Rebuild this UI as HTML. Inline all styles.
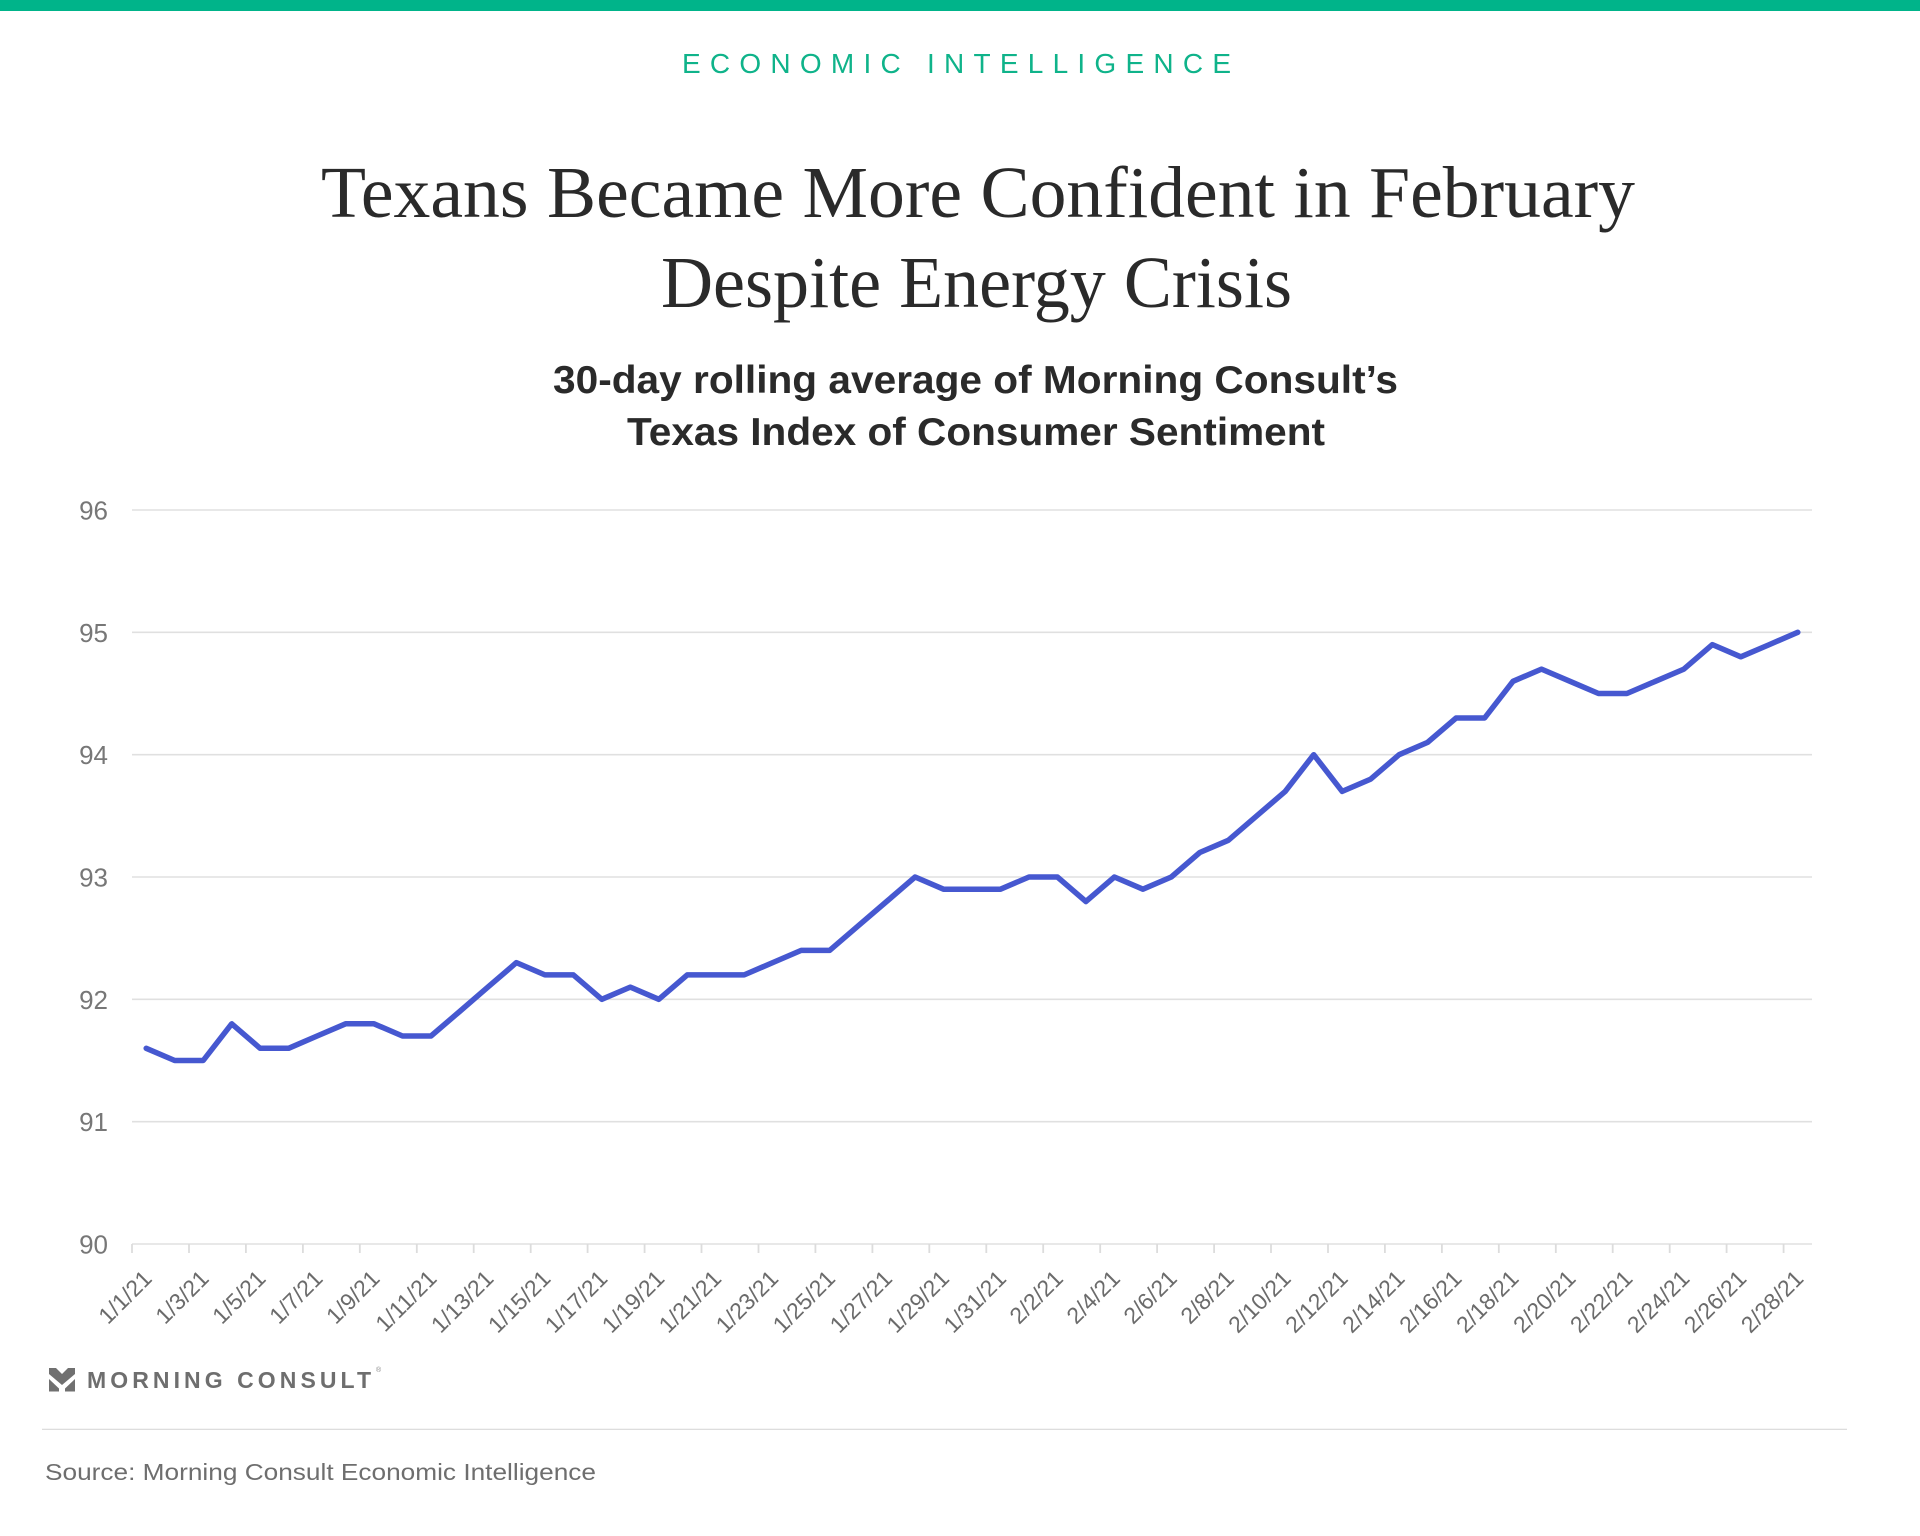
<!DOCTYPE html>
<html>
<head>
<meta charset="utf-8">
<style>
html,body{margin:0;padding:0;background:#fff;}
svg{display:block;}
</style>
</head>
<body>
<svg width="1920" height="1536" viewBox="0 0 1920 1536" xmlns="http://www.w3.org/2000/svg">
<rect x="0" y="0" width="1920" height="1536" fill="#fff"/>
<rect x="0" y="0" width="1920" height="11" fill="#00b48a"/>

<text x="682" y="73" font-family="Liberation Sans, sans-serif" font-size="28" fill="#0fb38a" textLength="549" lengthAdjust="spacing">ECONOMIC INTELLIGENCE</text>

<text x="321" y="217" font-family="Liberation Serif, serif" font-size="73" fill="#2a2a2a" textLength="1314" lengthAdjust="spacingAndGlyphs">Texans Became More Confident in February</text>
<text x="661" y="307" font-family="Liberation Serif, serif" font-size="73" fill="#2a2a2a" textLength="631" lengthAdjust="spacingAndGlyphs">Despite Energy Crisis</text>

<text x="553" y="393" font-family="Liberation Sans, sans-serif" font-size="39" font-weight="bold" fill="#2a2a2a" textLength="845" lengthAdjust="spacingAndGlyphs">30-day rolling average of Morning Consult’s</text>
<text x="627" y="445" font-family="Liberation Sans, sans-serif" font-size="39" font-weight="bold" fill="#2a2a2a" textLength="698" lengthAdjust="spacingAndGlyphs">Texas Index of Consumer Sentiment</text>

<!-- gridlines -->
<g stroke="#e0e0e0" stroke-width="1.6">
<line x1="132" y1="510" x2="1812" y2="510"/>
<line x1="132" y1="632.3" x2="1812" y2="632.3"/>
<line x1="132" y1="754.7" x2="1812" y2="754.7"/>
<line x1="132" y1="877" x2="1812" y2="877"/>
<line x1="132" y1="999.3" x2="1812" y2="999.3"/>
<line x1="132" y1="1121.7" x2="1812" y2="1121.7"/>
<line x1="132" y1="1244" x2="1812" y2="1244"/>
</g>
<!-- ticks -->
<g stroke="#dcdcdc" stroke-width="1.8">
<line x1="132" y1="1244" x2="132" y2="1253"/>
<line x1="189" y1="1244" x2="189" y2="1253"/>
<line x1="245.9" y1="1244" x2="245.9" y2="1253"/>
<line x1="302.9" y1="1244" x2="302.9" y2="1253"/>
<line x1="359.8" y1="1244" x2="359.8" y2="1253"/>
<line x1="416.8" y1="1244" x2="416.8" y2="1253"/>
<line x1="473.7" y1="1244" x2="473.7" y2="1253"/>
<line x1="530.7" y1="1244" x2="530.7" y2="1253"/>
<line x1="587.6" y1="1244" x2="587.6" y2="1253"/>
<line x1="644.6" y1="1244" x2="644.6" y2="1253"/>
<line x1="701.5" y1="1244" x2="701.5" y2="1253"/>
<line x1="758.5" y1="1244" x2="758.5" y2="1253"/>
<line x1="815.4" y1="1244" x2="815.4" y2="1253"/>
<line x1="872.4" y1="1244" x2="872.4" y2="1253"/>
<line x1="929.3" y1="1244" x2="929.3" y2="1253"/>
<line x1="986.3" y1="1244" x2="986.3" y2="1253"/>
<line x1="1043.2" y1="1244" x2="1043.2" y2="1253"/>
<line x1="1100.2" y1="1244" x2="1100.2" y2="1253"/>
<line x1="1157.1" y1="1244" x2="1157.1" y2="1253"/>
<line x1="1214.1" y1="1244" x2="1214.1" y2="1253"/>
<line x1="1271" y1="1244" x2="1271" y2="1253"/>
<line x1="1328" y1="1244" x2="1328" y2="1253"/>
<line x1="1384.9" y1="1244" x2="1384.9" y2="1253"/>
<line x1="1441.9" y1="1244" x2="1441.9" y2="1253"/>
<line x1="1498.8" y1="1244" x2="1498.8" y2="1253"/>
<line x1="1555.8" y1="1244" x2="1555.8" y2="1253"/>
<line x1="1612.7" y1="1244" x2="1612.7" y2="1253"/>
<line x1="1669.7" y1="1244" x2="1669.7" y2="1253"/>
<line x1="1726.6" y1="1244" x2="1726.6" y2="1253"/>
<line x1="1783.6" y1="1244" x2="1783.6" y2="1253"/>
</g>

<!-- y labels -->
<g font-family="Liberation Sans, sans-serif" font-size="26" fill="#777" text-anchor="end">
<text x="108" y="519.5">96</text>
<text x="108" y="641.8">95</text>
<text x="108" y="764.2">94</text>
<text x="108" y="886.5">93</text>
<text x="108" y="1008.8">92</text>
<text x="108" y="1131.2">91</text>
<text x="108" y="1253.5">90</text>
</g>

<!-- x labels -->
<g font-family="Liberation Sans, sans-serif" font-size="23" fill="#6b6b6b" text-anchor="end">
<text transform="translate(153.2,1280) rotate(-45)">1/1/21</text>
<text transform="translate(210.2,1280) rotate(-45)">1/3/21</text>
<text transform="translate(267.1,1280) rotate(-45)">1/5/21</text>
<text transform="translate(324.1,1280) rotate(-45)">1/7/21</text>
<text transform="translate(381,1280) rotate(-45)">1/9/21</text>
<text transform="translate(438,1280) rotate(-45)">1/11/21</text>
<text transform="translate(494.9,1280) rotate(-45)">1/13/21</text>
<text transform="translate(551.9,1280) rotate(-45)">1/15/21</text>
<text transform="translate(608.8,1280) rotate(-45)">1/17/21</text>
<text transform="translate(665.8,1280) rotate(-45)">1/19/21</text>
<text transform="translate(722.7,1280) rotate(-45)">1/21/21</text>
<text transform="translate(779.7,1280) rotate(-45)">1/23/21</text>
<text transform="translate(836.6,1280) rotate(-45)">1/25/21</text>
<text transform="translate(893.6,1280) rotate(-45)">1/27/21</text>
<text transform="translate(950.5,1280) rotate(-45)">1/29/21</text>
<text transform="translate(1007.5,1280) rotate(-45)">1/31/21</text>
<text transform="translate(1064.4,1280) rotate(-45)">2/2/21</text>
<text transform="translate(1121.4,1280) rotate(-45)">2/4/21</text>
<text transform="translate(1178.3,1280) rotate(-45)">2/6/21</text>
<text transform="translate(1235.3,1280) rotate(-45)">2/8/21</text>
<text transform="translate(1292.2,1280) rotate(-45)">2/10/21</text>
<text transform="translate(1349.2,1280) rotate(-45)">2/12/21</text>
<text transform="translate(1406.1,1280) rotate(-45)">2/14/21</text>
<text transform="translate(1463.1,1280) rotate(-45)">2/16/21</text>
<text transform="translate(1520,1280) rotate(-45)">2/18/21</text>
<text transform="translate(1577,1280) rotate(-45)">2/20/21</text>
<text transform="translate(1633.9,1280) rotate(-45)">2/22/21</text>
<text transform="translate(1690.9,1280) rotate(-45)">2/24/21</text>
<text transform="translate(1747.8,1280) rotate(-45)">2/26/21</text>
<text transform="translate(1804.8,1280) rotate(-45)">2/28/21</text>
</g>

<!-- data line -->
<polyline fill="none" stroke="#4658d0" stroke-width="5.5" stroke-linejoin="round" stroke-linecap="round" points="
146.2,1048.3 174.7,1060.5 203.2,1060.5 231.7,1023.8 260.1,1048.3 288.6,1048.3 317.1,1036.0 345.6,1023.8 374.0,1023.8 402.5,1036.0
431.0,1036.0 459.5,1011.6 487.9,987.1 516.4,962.6 544.9,974.9 573.4,974.9 601.8,999.3 630.3,987.1 658.8,999.3 687.3,974.9
715.7,974.9 744.2,974.9 772.7,962.6 801.2,950.4 829.6,950.4 858.1,925.9 886.6,901.5 915.1,877.0 943.5,889.2 972.0,889.2
1000.5,889.2 1029.0,877.0 1057.4,877.0 1085.9,901.5 1114.4,877.0 1142.9,889.2 1171.3,877.0 1199.8,852.5 1228.3,840.3 1256.8,815.8
1285.2,791.4 1313.7,754.7 1342.2,791.4 1370.7,779.1 1399.1,754.7 1427.6,742.4 1456.1,718.0 1484.6,718.0 1513.0,681.3 1541.5,669.1
1570.0,681.3 1598.5,693.5 1626.9,693.5 1655.4,681.3 1683.9,669.1 1712.4,644.6 1740.8,656.8 1769.3,644.6 1797.8,632.3"/>

<!-- logo -->
<g transform="translate(49,1368)" fill="#707070">
<polygon points="0,0 7,0 13,6 19,0 26,0 26,6 13,17 0,6"/>
<polygon points="0,11 10,20.5 10,23.5 0,23.5"/>
<polygon points="26,11 16,20.5 16,23.5 26,23.5"/>
</g>
<text x="87" y="1388" font-family="Liberation Sans, sans-serif" font-size="23" font-weight="bold" fill="#6e6e6e" textLength="284" lengthAdjust="spacing">MORNING CONSULT</text>
<text x="376" y="1372" font-family="Liberation Sans, sans-serif" font-size="7" fill="#888">®</text>

<line x1="42" y1="1429.3" x2="1847" y2="1429.3" stroke="#d8d8d8" stroke-width="1.2"/>

<text x="45" y="1480" font-family="Liberation Sans, sans-serif" font-size="23.5" fill="#6e6e6e" textLength="551" lengthAdjust="spacingAndGlyphs">Source: Morning Consult Economic Intelligence</text>
</svg>
</body>
</html>
